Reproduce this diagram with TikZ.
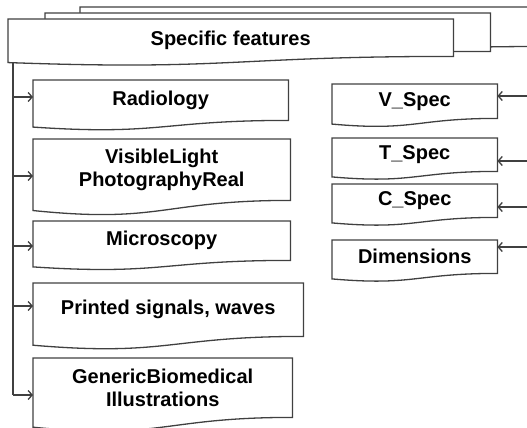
\documentclass[tikz,border=0pt]{standalone}
\usepackage{fontspec}
\setmainfont{Liberation Sans}
\usetikzlibrary{calc,arrows.meta}
% Dokument-Form: oben gerade, unten gewellt
\newcommand{\welle}[2][]{%
\draw[linie,#1] (#2.north west) -- (#2.north east) -- (#2.south east)
  .. controls (#2.south) and ($(#2.north)!1.38!(#2.south)$)
  .. ($(#2.north west)!1.165!(#2.south west)$) -- cycle;}
\begin{document}
\begin{tikzpicture}[x=1pt,y=-1pt]
\tikzset{linie/.style={draw=black!75,line width=1.3pt},
  kasten/.style={anchor=north west,inner sep=0pt,align=center,
    font=\fontsize{20}{23}\selectfont\bfseries},
  pfeil/.style={linie,-{Straight Barb[length=4pt,width=9pt]}}}
\useasboundingbox (0,0) rectangle (527,428);
\clip (0,0) rectangle (527,428);
% Stapel oben
\node [kasten,minimum width=480,minimum height=39] (k3) at (80,7) {};
\node [kasten,minimum width=445,minimum height=38] (k2) at (45,13) {};
\node [kasten,minimum width=445,minimum height=37] (k1) at (8,19) {};
\welle[fill=white]{k3}
\welle[fill=white]{k2}
\welle[fill=white]{k1}
\node [kasten,anchor=center] (kopf) at ($(k1.center)+(0,3)$) {Specific features};
% linke Spalte
\node [kasten,minimum width=255,minimum height=40] (rad) at (33,80) {Radiology};
\node [kasten,minimum width=257,minimum height=61] (vis) at (33,139) {VisibleLight\\PhotographyReal};
\node [kasten,minimum width=257,minimum height=39] (mic) at (33,221) {Microscopy};
\node [kasten,minimum width=270,minimum height=53] (pri) at (33,283) {Printed signals, waves};
\node [kasten,minimum width=259,minimum height=59] (gen) at (33,358) {GenericBiomedical\\Illustrations};
% rechte Spalte
\node [kasten,minimum width=165,minimum height=34] (vsp) at (332,84) {V\_Spec};
\node [kasten,minimum width=165,minimum height=33] (tsp) at (332,138) {T\_Spec};
\node [kasten,minimum width=165,minimum height=33] (csp) at (332,184) {C\_Spec};
\node [kasten,minimum width=165,minimum height=33] (dim) at (332,240) {Dimensions};
\welle{rad} \welle{vis} \welle{mic} \welle{pri} \welle{gen}
\welle{vsp} \welle{tsp} \welle{csp} \welle{dim}
% Stamm links
\coordinate (oben) at (13,62);
\coordinate (p1) at (13,97);
\coordinate (p2) at (13,176);
\coordinate (p3) at (13,246);
\coordinate (p4) at (13,306);
\coordinate (p5) at (13,395);
\draw[linie] (oben) to (p5);
\draw[pfeil] (p1) to (p1 -| rad.west);
\draw[pfeil] (p2) to (p2 -| vis.west);
\draw[pfeil] (p3) to (p3 -| mic.west);
\draw[pfeil] (p4) to (p4 -| pri.west);
\draw[pfeil] (p5) to (p5 -| gen.west);
% Pfeile von rechts
\coordinate (q1) at (527,96);
\coordinate (q2) at (527,161);
\coordinate (q3) at (527,207);
\coordinate (q4) at (527,247);
\draw[pfeil] (q1) to (q1 -| vsp.east);
\draw[pfeil] (q2) to (q2 -| tsp.east);
\draw[pfeil] (q3) to (q3 -| csp.east);
\draw[pfeil] (q4) to (q4 -| dim.east);
\end{tikzpicture}
\end{document}
